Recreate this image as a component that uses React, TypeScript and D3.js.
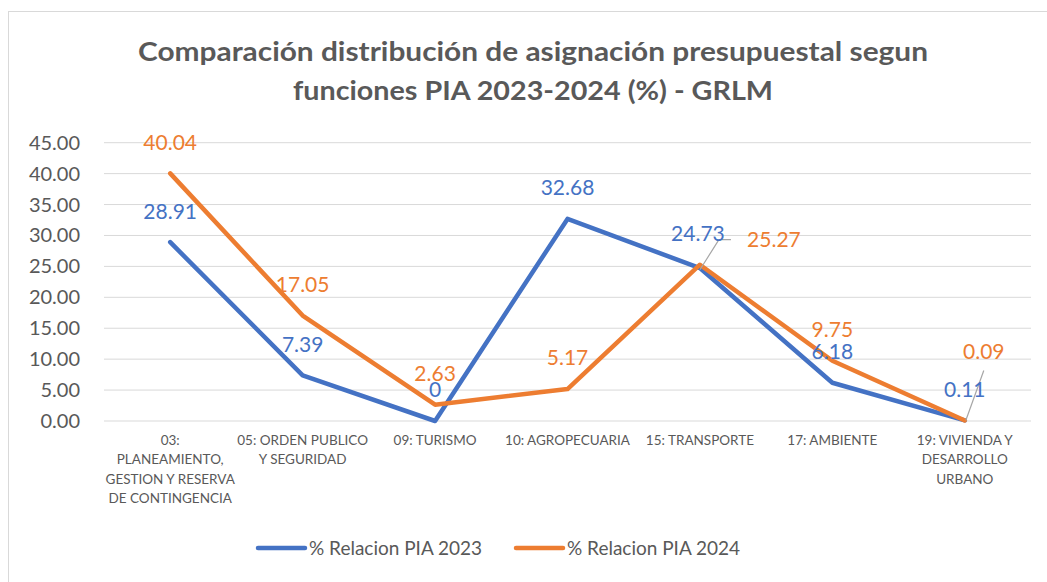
import React from "react";
import * as d3 from "d3";

const categories: string[] = [
  "03:\nPLANEAMIENTO,\nGESTION Y RESERVA\nDE CONTINGENCIA",
  "05: ORDEN PUBLICO\nY SEGURIDAD",
  "09: TURISMO",
  "10: AGROPECUARIA",
  "15: TRANSPORTE",
  "17: AMBIENTE",
  "19: VIVIENDA Y\nDESARROLLO\nURBANO",
];
const pia2023: number[] = [28.91, 7.39, 0, 32.68, 24.73, 6.18, 0.11];
const pia2024: number[] = [40.04, 17.05, 2.63, 5.17, 25.27, 9.75, 0.09];
const label2023: string[] = ["28.91", "7.39", "0", "32.68", "24.73", "6.18", "0.11"];
const label2024: string[] = ["40.04", "17.05", "2.63", "5.17", "25.27", "9.75", "0.09"];
const yTicks: number[] = [0, 5, 10, 15, 20, 25, 30, 35, 40, 45];
const seriesNames: string[] = ["% Relacion PIA 2023", "% Relacion PIA 2024"];
const titleLines: string[] = [
  "Comparación distribución de asignación presupuestal segun",
  "funciones PIA 2023-2024 (%) - GRLM",
];

const W = 1047;
const H = 582;
const FONT = "Lato, 'Open Sans', sans-serif";
const BLUE = "#4472C4";
const ORANGE = "#ED7D31";
const GREY_TEXT = "#595959";
const titleWidths = [790, 480];

// label offsets (dx, dy) relative to point, for manually moved labels
const off2023: Record<number, [number, number]> = { 4: [-2, -34] };
const off2024: Record<number, [number, number]> = { 4: [74, -25], 6: [19, -69] };

export default function App() {
  const x = d3.scaleBand<number>().domain(d3.range(categories.length)).range([104, 1031]);
  const cx = (i: number) => (x(i) as number) + x.bandwidth() / 2;
  const y = d3.scaleLinear().domain([0, 45]).range([421, 142.7]);

  const line = d3
    .line<number>()
    .x((_, i) => cx(i))
    .y((d) => y(d));

  const labelPos = (vals: number[], offs: Record<number, [number, number]>, i: number) => {
    const o = offs[i] ?? [0, -31];
    return [cx(i) + o[0], y(vals[i]) + o[1]];
  };

  const l1 = labelPos(pia2024, off2024, 4);
  const l2 = labelPos(pia2024, off2024, 6);

  return (
    <svg width={W} height={H} style={{ display: "block", position: "absolute", left: 0, top: 0 }}>
      <rect x={0} y={0} width={W} height={H} fill="#fff" />
      <rect x={8.5} y={11.5} width={W + 20} height={H + 20} fill="none" stroke="#D9D9D9" strokeWidth={1} />
      {titleLines.map((t, i) => (
        <text
          key={i}
          x={533}
          y={61 + i * 39}
          textAnchor="middle"
          fontFamily={FONT}
          fontWeight="bold"
          fontSize={27.5}
          fill={GREY_TEXT}
          textLength={titleWidths[i]}
          lengthAdjust="spacingAndGlyphs"
        >
          {t}
        </text>
      ))}
      {yTicks.map((t) => (
        <g key={t}>
          <line x1={104} x2={1031} y1={y(t)} y2={y(t)} stroke="#D9D9D9" strokeWidth={1} />
          <text x={80} y={y(t)} dy="0.35em" textAnchor="end" fontFamily={FONT} fontSize={20} fill={GREY_TEXT}>
            {d3.format(".2f")(t)}
          </text>
        </g>
      ))}
      {categories.map((c, i) => (
        <text key={i} textAnchor="middle" fontFamily={FONT} fontSize={13.5} fill={GREY_TEXT}>
          {c.split("\n").map((ln, j) => (
            <tspan key={j} x={cx(i)} y={445 + j * 19.3}>
              {ln}
            </tspan>
          ))}
        </text>
      ))}
      <path d={line(pia2023) ?? ""} fill="none" stroke={BLUE} strokeWidth={4.5} strokeLinejoin="round" strokeLinecap="round" />
      <path d={line(pia2024) ?? ""} fill="none" stroke={ORANGE} strokeWidth={4.5} strokeLinejoin="round" strokeLinecap="round" />
      <polyline
        points={`${cx(4)},${y(pia2024[4]) + 5} ${l1[0] - 55},${l1[1]} ${l1[0] - 43},${l1[1]}`}
        fill="none"
        stroke="#A6A6A6"
        strokeWidth={1.2}
      />
      <line x1={cx(6) + 1} y1={y(pia2024[6])} x2={l2[0]} y2={l2[1] + 19} stroke="#A6A6A6" strokeWidth={1.2} />
      {pia2023.map((v, i) => {
        const p = labelPos(pia2023, off2023, i);
        return (
          <text key={"a" + i} x={p[0]} y={p[1]} dy="0.35em" textAnchor="middle" fontFamily={FONT} fontSize={21} fill={BLUE}>
            {label2023[i]}
          </text>
        );
      })}
      {pia2024.map((v, i) => {
        const p = labelPos(pia2024, off2024, i);
        return (
          <text key={"b" + i} x={p[0]} y={p[1]} dy="0.35em" textAnchor="middle" fontFamily={FONT} fontSize={21} fill={ORANGE}>
            {label2024[i]}
          </text>
        );
      })}
      {seriesNames.map((s, i) => (
        <g key={s} transform={`translate(${258 + i * 258},548)`}>
          <line x1={0} x2={47} y1={0} y2={0} stroke={i === 0 ? BLUE : ORANGE} strokeWidth={4.5} strokeLinecap="round" />
          <text x={51} y={0} dy="0.35em" fontFamily={FONT} fontSize={19} fill={GREY_TEXT}>
            {s}
          </text>
        </g>
      ))}
    </svg>
  );
}
